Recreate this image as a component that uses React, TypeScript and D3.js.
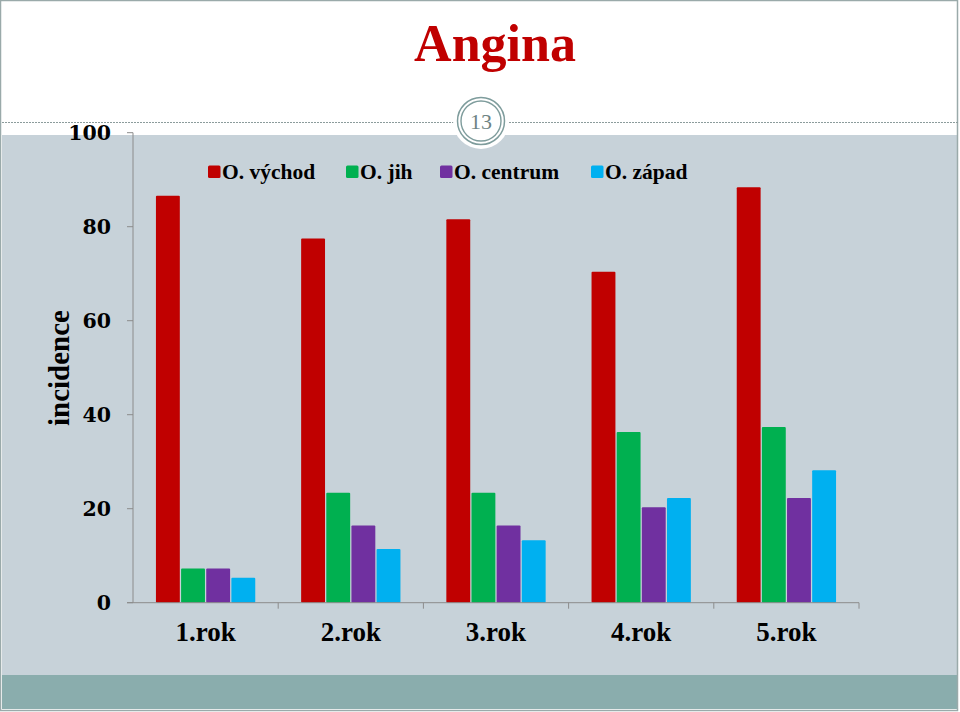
import * as d3 from "d3";
import { useEffect } from "react";

const WIDTH = 960;
const HEIGHT = 712;
const MARGIN = { top: 132.7, right: 101, bottom: 109.3, left: 133 };

const categories = ["1.rok", "2.rok", "3.rok", "4.rok", "5.rok"];
const seriesNames = ["O. východ", "O. jih", "O. centrum", "O. západ"];
const seriesColors = ["#C00000", "#00B050", "#7030A0", "#00B0F0"];

const vychod = [86.6, 77.5, 81.6, 70.4, 88.4];
const jih = [7.3, 23.4, 23.4, 36.3, 37.4];
const centrum = [7.3, 16.4, 16.4, 20.3, 22.3];
const zapad = [5.3, 11.4, 13.3, 22.3, 28.2];

const yTicks = [0, 20, 40, 60, 80, 100];

const SERIF = "'Liberation Serif', 'DejaVu Serif', serif";
const WIDE_SERIF = "'DejaVu Serif', 'Liberation Serif', serif";

export default function App() {
  useEffect(() => {
    document.body.style.margin = "0";
  }, []);

  const series = [vychod, jih, centrum, zapad];

  const x0 = d3
    .scaleBand()
    .domain(categories)
    .range([MARGIN.left, WIDTH - MARGIN.right])
    .paddingInner(0.316)
    .paddingOuter(0.158);

  const x1 = d3
    .scaleBand()
    .domain(seriesNames)
    .range([0, x0.bandwidth()])
    .paddingInner(0.05);

  const y = d3
    .scaleLinear()
    .domain([0, 100])
    .range([HEIGHT - MARGIN.bottom, MARGIN.top]);

  const plotLeft = MARGIN.left;
  const plotRight = WIDTH - MARGIN.right;
  const step = (plotRight - plotLeft) / categories.length;

  // legend square positions, text follows each square
  const legendX = [208, 346, 440, 591];

  return (
    <svg
      width={WIDTH}
      height={HEIGHT}
      style={{ display: "block", position: "absolute", left: 0, top: 0 }}
    >
      {/* slide background */}
      <rect x={0} y={0} width={WIDTH} height={HEIGHT} fill="#ffffff" />
      <rect x={2} y={135} width={WIDTH - 4} height={540} fill="#C7D2D9" />
      <rect x={2} y={675} width={WIDTH - 4} height={34} fill="#8AADAD" />
      <rect
        x={0.5}
        y={0.5}
        width={WIDTH - 3}
        height={HEIGHT - 2}
        fill="none"
        stroke="#9AAAAA"
        strokeWidth={1.5}
      />

      {/* title */}
      <text
        x={495}
        y={61}
        textAnchor="middle"
        fontFamily={SERIF}
        fontWeight="bold"
        fontSize={52}
        fill="#C00000"
      >
        Angina
      </text>

      {/* dashed header line and page number */}
      <line
        x1={2}
        x2={WIDTH - 2}
        y1={122.5}
        y2={122.5}
        stroke="#8C9C9C"
        strokeDasharray="2,1"
      />
      <circle cx={481} cy={121} r={28} fill="#ffffff" />
      <circle cx={481} cy={121} r={23.5} fill="none" stroke="#7E9C9C" strokeWidth={1.5} />
      <circle cx={481} cy={121} r={20} fill="none" stroke="#7E9C9C" strokeWidth={1.4} />
      <text
        x={481}
        y={129}
        textAnchor="middle"
        fontFamily={SERIF}
        fontSize={22}
        fill="#6E8484"
      >
        13
      </text>

      {/* y axis */}
      <line
        x1={plotLeft}
        x2={plotLeft}
        y1={y(100)}
        y2={y(0)}
        stroke="#8C8C8C"
        strokeWidth={1}
      />
      {yTicks.map((t) => (
        <g key={t}>
          <line
            x1={plotLeft - 6}
            x2={plotLeft}
            y1={y(t)}
            y2={y(t)}
            stroke="#8C8C8C"
          />
          <text
            x={111}
            y={y(t) + 7.5}
            textAnchor="end"
            fontFamily={WIDE_SERIF}
            fontWeight="bold"
            fontSize={20.5}
            fill="#000000"
          >
            {t}
          </text>
        </g>
      ))}

      {/* y axis title */}
      <text
        transform={`translate(69,${368}) rotate(-90)`}
        textAnchor="middle"
        fontFamily={SERIF}
        fontWeight="bold"
        fontSize={29}
        fill="#000000"
      >
        incidence
      </text>

      {/* bars */}
      {categories.map((c, ci) => (
        <g key={c} transform={`translate(${x0(c)},0)`}>
          {series.map((s, si) => (
            <rect
              key={seriesNames[si]}
              x={x1(seriesNames[si])}
              y={y(s[ci])}
              width={x1.bandwidth()}
              height={y(0) - y(s[ci])}
              fill={seriesColors[si]}
              rx={1}
            />
          ))}
        </g>
      ))}

      {/* x axis */}
      <line
        x1={plotLeft - 6}
        x2={plotRight}
        y1={y(0)}
        y2={y(0)}
        stroke="#8C8C8C"
      />
      {categories.map((c, i) => (
        <line
          key={c}
          x1={plotLeft + step * (i + 1)}
          x2={plotLeft + step * (i + 1)}
          y1={y(0)}
          y2={y(0) + 6}
          stroke="#8C8C8C"
        />
      ))}
      {categories.map((c) => (
        <text
          key={c}
          x={(x0(c) ?? 0) + x0.bandwidth() / 2}
          y={641}
          textAnchor="middle"
          fontFamily={SERIF}
          fontWeight="bold"
          fontSize={27}
          fill="#000000"
        >
          {c}
        </text>
      ))}

      {/* legend */}
      {seriesNames.map((n, i) => (
        <g key={n}>
          <rect
            x={legendX[i]}
            y={165.5}
            width={12.5}
            height={12.5}
            rx={1.5}
            fill={seriesColors[i]}
          />
          <text
            x={legendX[i] + 14}
            y={178.5}
            fontFamily={SERIF}
            fontWeight="bold"
            fontSize={21.5}
            fill="#000000"
          >
            {n}
          </text>
        </g>
      ))}
    </svg>
  );
}
